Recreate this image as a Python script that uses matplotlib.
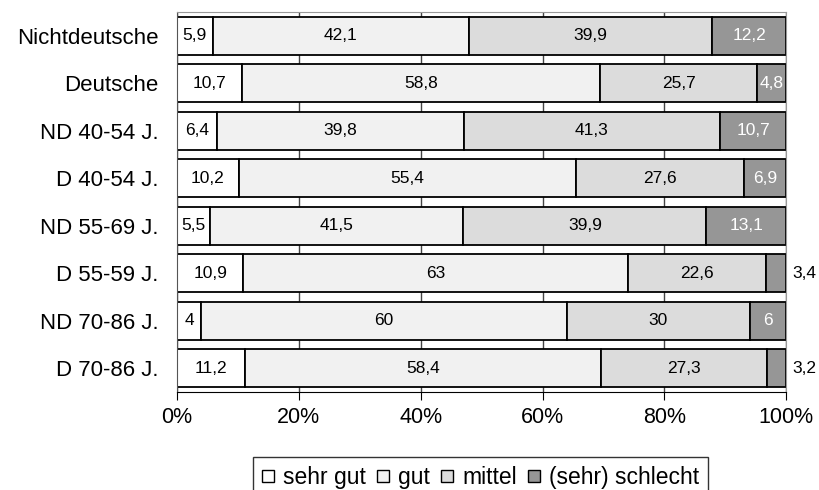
import numpy as np
import matplotlib.pyplot as plt
from matplotlib.lines import Line2D

plt.rcParams['font.family'] = ['Liberation Sans', 'DejaVu Sans']

# Gruppen (von oben nach unten)
gruppen = ['Nichtdeutsche', 'Deutsche', 'ND 40-54 J.', 'D 40-54 J.',
           'ND 55-69 J.', 'D 55-59 J.', 'ND 70-86 J.', 'D 70-86 J.']

sehr_gut = [5.9, 10.7, 6.4, 10.2, 5.5, 10.9, 4, 11.2]
gut = [42.1, 58.8, 39.8, 55.4, 41.5, 63, 60, 58.4]
mittel = [39.9, 25.7, 41.3, 27.6, 39.9, 22.6, 30, 27.3]
schlecht = [12.2, 4.8, 10.7, 6.9, 13.1, 3.4, 6, 3.2]

kategorien = ['sehr gut', 'gut', 'mittel', '(sehr) schlecht']
farben = ['#ffffff', '#f1f1f1', '#dcdcdc', '#969696']
textfarben = ['black', 'black', 'black', 'white']


def fmt(v):
    return ('%g' % v).replace('.', ',')


def main():
    werte = np.array([sehr_gut, gut, mittel, schlecht], dtype=float)
    anteile = werte / werte.sum(axis=0) * 100

    fig = plt.figure(figsize=(8.19, 4.9), dpi=100)
    ax = fig.add_axes([0.216, 0.2, 0.744, 0.775])

    y = np.arange(len(gruppen))
    links = np.zeros(len(gruppen))
    for k in range(4):
        ax.barh(y, anteile[k], left=links, height=0.8, color=farben[k],
                edgecolor='black', linewidth=1.3, zorder=2)
        for i in range(len(gruppen)):
            v = werte[k, i]
            if k == 3 and v < 4:
                # zu schmal: Wert rechts neben den Balken
                ax.text(101.0, y[i], fmt(v), ha='left', va='center',
                        fontsize=12.5, color='black', clip_on=False)
            else:
                ax.text(links[i] + anteile[k, i] / 2, y[i], fmt(v),
                        ha='center', va='center', fontsize=12.5,
                        color=textfarben[k], zorder=3)
        links += anteile[k]

    ax.set_ylim(len(gruppen) - 0.5, -0.5)
    ax.set_xlim(0, 100)
    ax.set_xticks(np.arange(0, 101, 20))
    ax.set_xticklabels(['%d%%' % t for t in range(0, 101, 20)], fontsize=15.5)
    ax.set_yticks(y)
    ax.set_yticklabels(gruppen, fontsize=16)
    ax.tick_params(axis='y', length=0, pad=13)
    ax.tick_params(axis='x', length=6, direction='out', pad=5)
    ax.grid(axis='x', color='#444444', linewidth=1)
    ax.set_axisbelow(True)
    for s in ['top', 'right']:
        ax.spines[s].set_color('#999999')
    ax.spines['left'].set_color('#555555')
    ax.spines['bottom'].set_color('black')

    handles = [Line2D([], [], marker='s', linestyle='none', markersize=8,
                      markerfacecolor=farben[k], markeredgecolor='black',
                      markeredgewidth=1) for k in range(4)]
    leg = fig.legend(handles, kategorien, loc='upper center',
                     bbox_to_anchor=(0.587, 0.0673), ncol=4, fontsize=16.5,
                     frameon=True, fancybox=False, handlelength=0.5,
                     handletextpad=0.4, columnspacing=0.5, borderpad=0.4,
                     borderaxespad=0)
    leg.get_frame().set_edgecolor('black')
    leg.get_frame().set_linewidth(1)

    fig.savefig('out.png', dpi=100)


if __name__ == "__main__":
    main()
